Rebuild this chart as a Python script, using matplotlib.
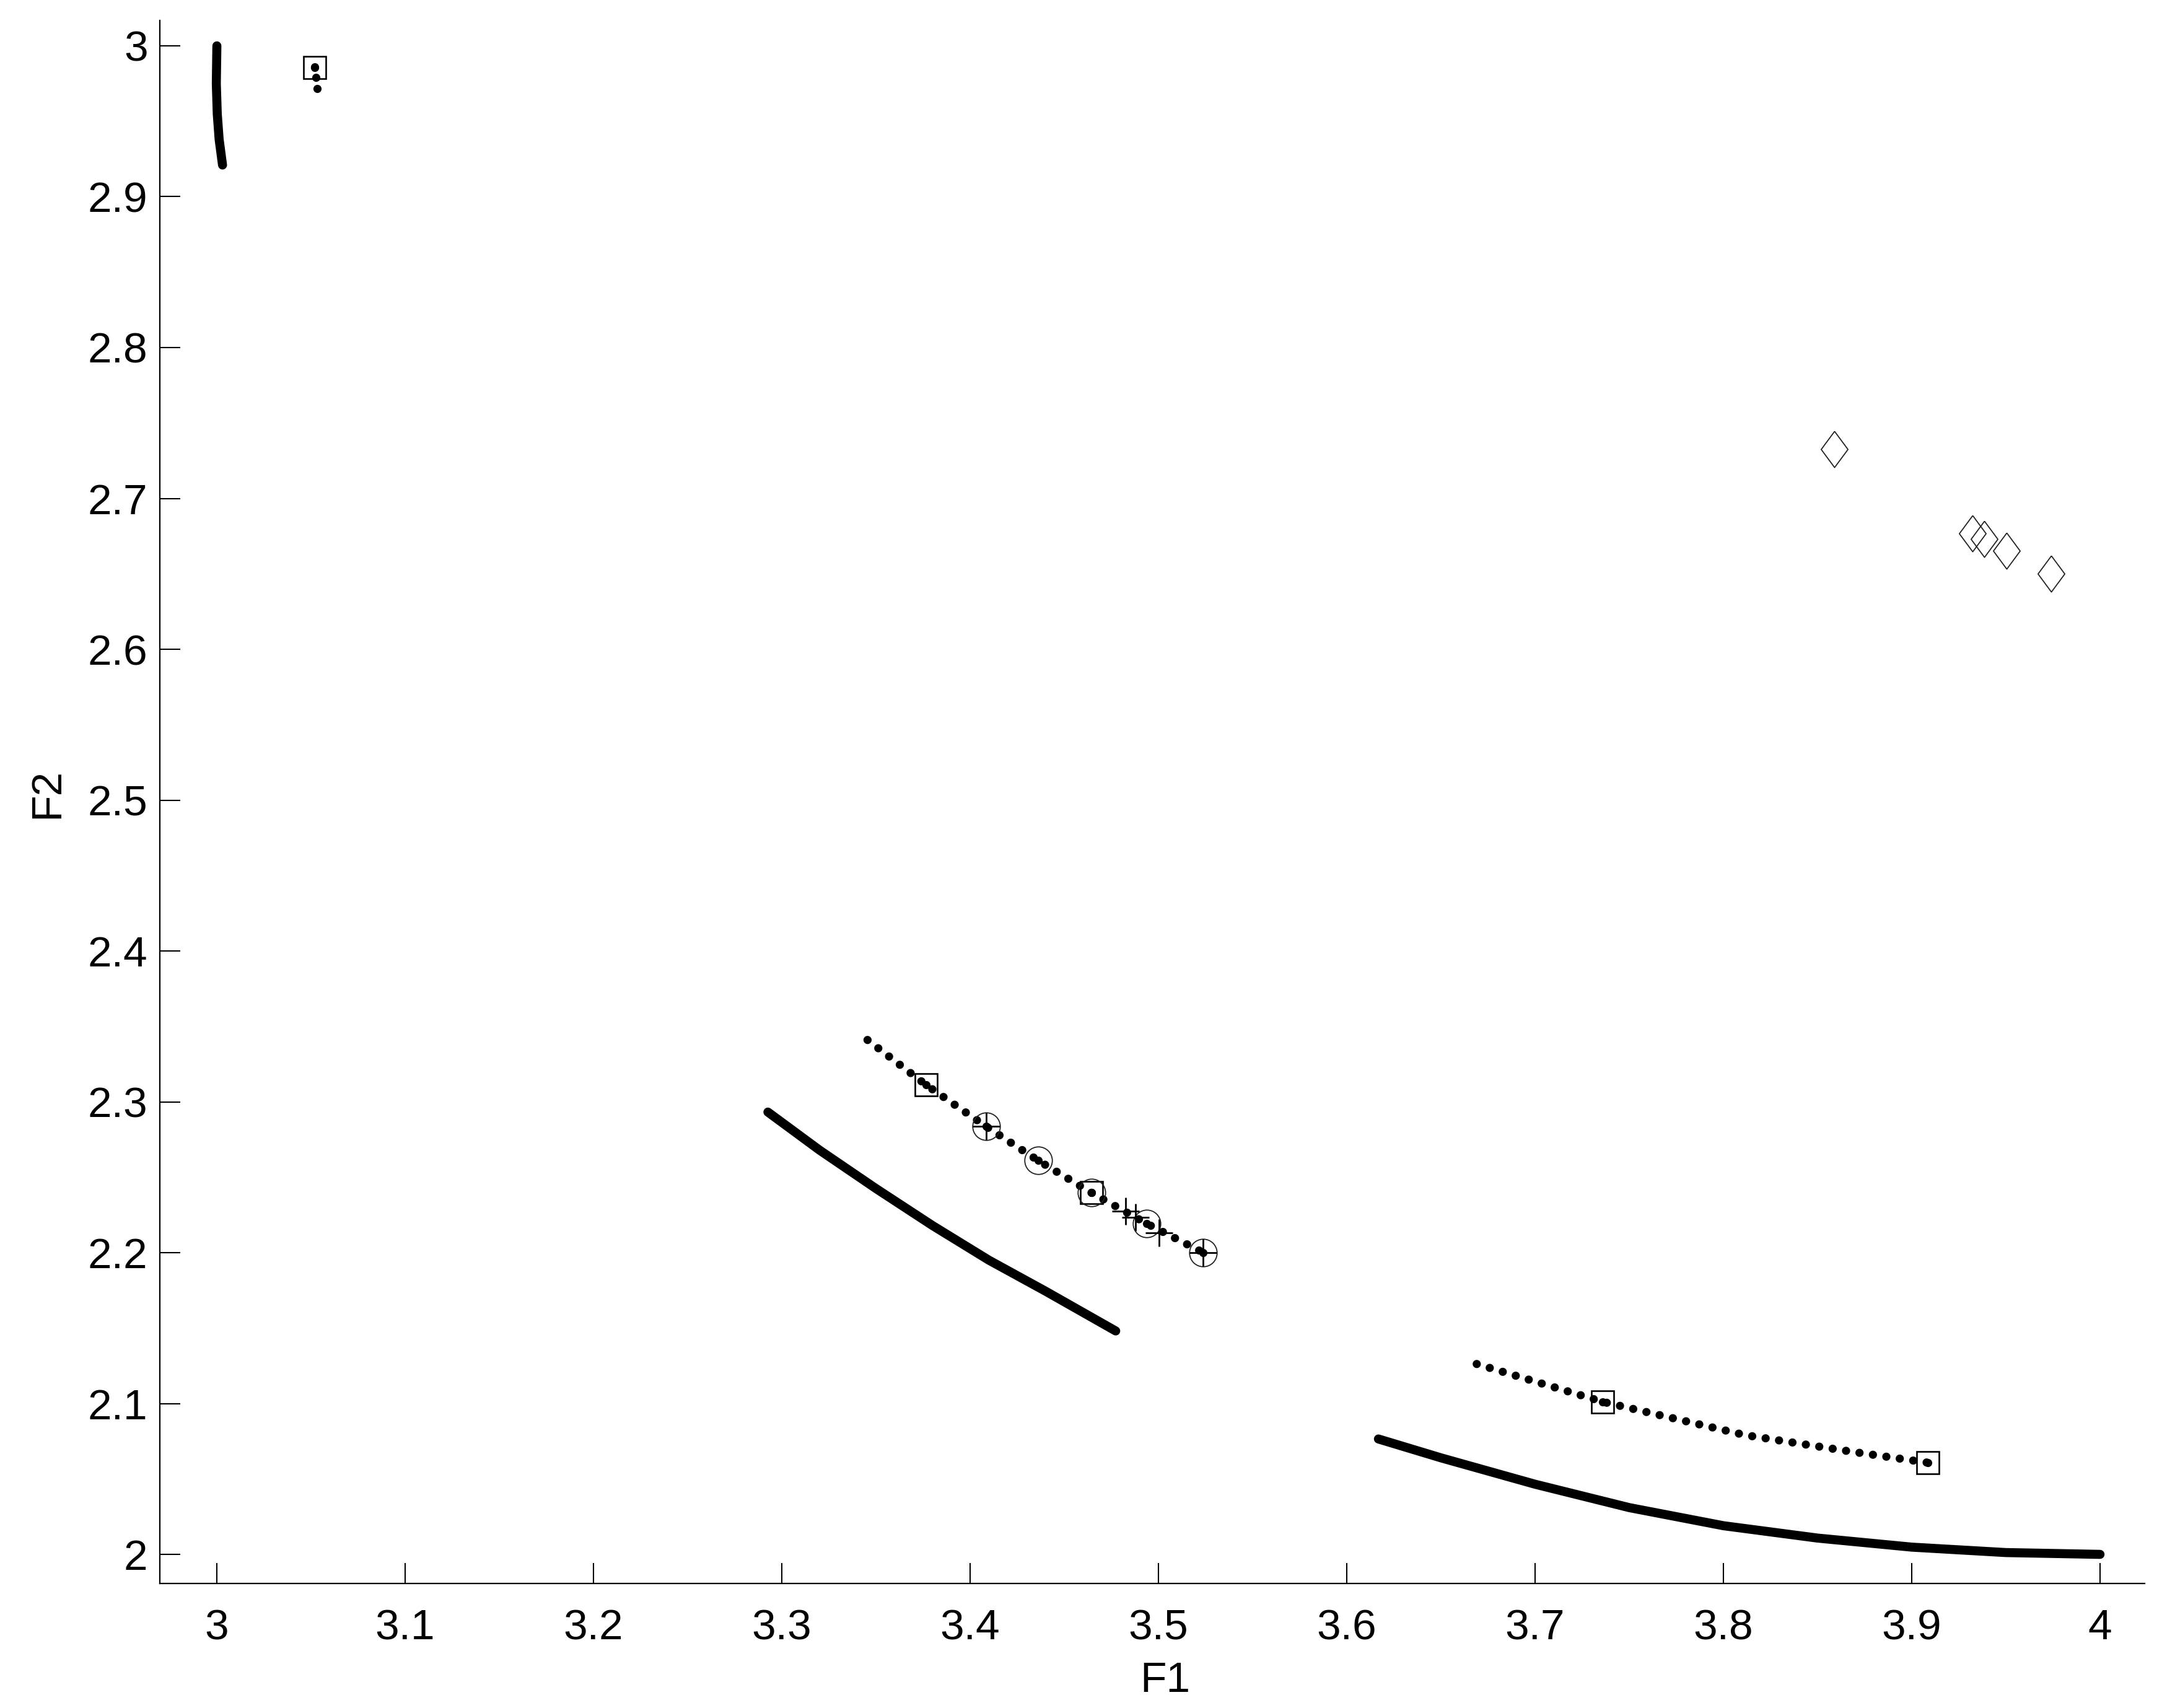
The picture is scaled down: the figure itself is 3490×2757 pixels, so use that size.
import numpy as np
import matplotlib
matplotlib.use("Agg")
import matplotlib.pyplot as plt

plt.rcParams['font.family'] = ['Liberation Sans', 'DejaVu Sans']

# true Pareto front segments (thick solid)
front1_x = [3.000, 2.9997, 3.0002, 3.0012, 3.003]
front1_y = [3.000, 2.975, 2.955, 2.938, 2.921]
front2_x = [3.2926, 3.320, 3.350, 3.380, 3.410, 3.440, 3.4773]
front2_y = [2.2932, 2.268, 2.2425, 2.218, 2.195, 2.1745, 2.1481]
front3_x = [3.6168, 3.650, 3.700, 3.750, 3.800, 3.850, 3.900, 3.950, 4.000]
front3_y = [2.0765, 2.064, 2.0465, 2.031, 2.019, 2.0108, 2.0048, 2.0012, 2.000]

# approximated fronts (dotted)
approx2_x = [3.3455, 3.3765, 3.4084, 3.4361, 3.4643, 3.4937, 3.5237]
approx2_y = [2.3410, 2.3113, 2.2837, 2.2611, 2.2398, 2.2193, 2.2001]
approx3_x = [3.669, 3.7357, 3.8118, 3.8685, 3.9085]
approx3_y = [2.1262, 2.1012, 2.0790, 2.0680, 2.0608]
dots1_x = [3.0521, 3.0526, 3.0532]
dots1_y = [2.9859, 2.9790, 2.9718]

# solutions found by the different methods
sq_x = [3.0521, 3.3765, 3.4643, 3.7357, 3.9085]
sq_y = [2.9855, 2.3113, 2.2398, 2.1012, 2.0608]
circ_x = [3.4084, 3.4361, 3.4643, 3.4937, 3.5237]
circ_y = [2.2837, 2.2611, 2.2398, 2.2193, 2.2001]
plus_x = [3.4084, 3.4827, 3.4878, 3.5003, 3.5237]
plus_y = [2.2837, 2.2275, 2.2234, 2.2131, 2.2001]
dia_x = [3.8589, 3.9324, 3.9384, 3.9502, 3.9740]
dia_y = [2.7326, 2.6769, 2.6731, 2.6652, 2.6501]

fig = plt.figure(figsize=(34.91, 27.57), dpi=100)
ax = fig.add_axes([0.0739, 0.0729, 0.9178, 0.9151])

for fx, fy in [(front1_x, front1_y), (front2_x, front2_y), (front3_x, front3_y)]:
    ax.plot(fx, fy, color='black', lw=10.5, solid_capstyle='round',
            solid_joinstyle='round')

for px, py in [(approx2_x, approx2_y), (approx3_x, approx3_y)]:
    ax.plot(px, py, color='black', lw=9.5, linestyle=(0, (0.01, 1.65)),
            dash_capstyle='round')
ax.plot(dots1_x, dots1_y, 'o', color='black', ms=9.5, mew=0)

ax.plot(sq_x, sq_y, 's', mfc='none', mec='black', ms=26.5, mew=1.9)
ax.plot(sq_x, sq_y, 'o', color='black', ms=9.5, mew=0)
ax.plot(circ_x, circ_y, 'o', mfc='none', mec='#222222', ms=32, mew=1.3)
ax.plot(circ_x, circ_y, 'o', color='black', ms=9.5, mew=0)
ax.plot(plus_x, plus_y, '+', color='black', ms=32, mew=2.0)

diamond = [(0, 1), (0.74, 0), (0, -1), (-0.74, 0), (0, 1)]
ax.plot(dia_x, dia_y, linestyle='none', marker=diamond, mfc='none',
        mec='#222222', ms=42, mew=1.3)

ax.set_xlim(2.9697, 4.0237)
ax.set_ylim(1.9807, 3.0168)
ax.set_xticks(np.arange(3.0, 4.01, 0.1))
ax.set_xticklabels(['3', '3.1', '3.2', '3.3', '3.4', '3.5', '3.6', '3.7', '3.8', '3.9', '4'])
ax.set_yticks(np.arange(2.0, 3.01, 0.1))
ax.set_yticklabels(['2', '2.1', '2.2', '2.3', '2.4', '2.5', '2.6', '2.7', '2.8', '2.9', '3'])

ax.spines['top'].set_visible(False)
ax.spines['right'].set_visible(False)
for s in ['left', 'bottom']:
    ax.spines[s].set_linewidth(1.6)
ax.tick_params(axis='both', direction='in', length=24, width=1.5, labelsize=50)
ax.tick_params(axis='x', pad=29)
ax.tick_params(axis='y', pad=14)

ax.set_xlabel('F1', fontsize=50, labelpad=15)
ax.set_ylabel('F2', fontsize=50, labelpad=24)
ax.xaxis.label.set_x(0.5066)
ax.yaxis.label.set_y(0.5057)

fig.savefig('out.png', dpi=100, facecolor='white')
